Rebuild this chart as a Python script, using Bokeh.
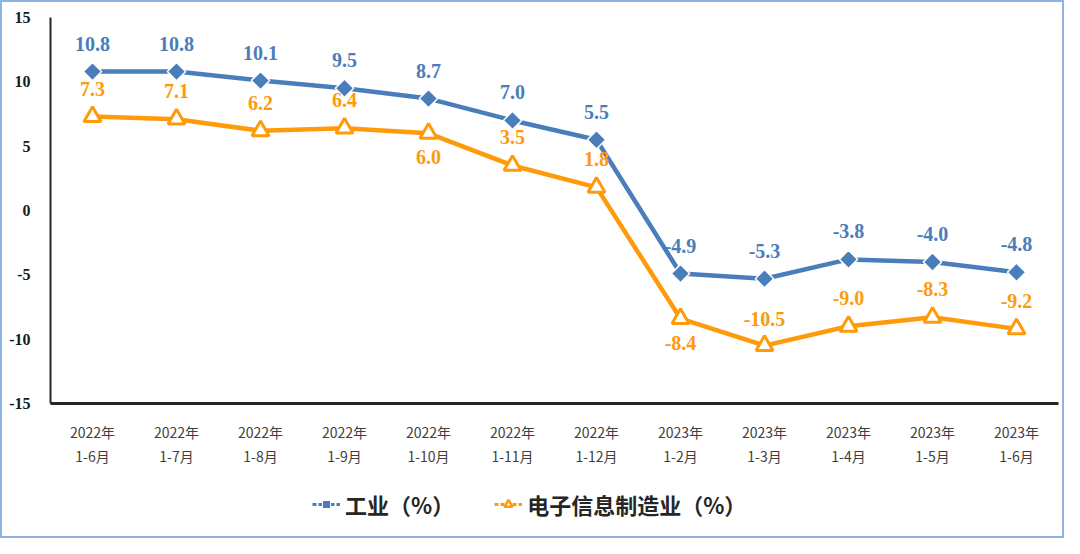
import math
from bokeh.plotting import figure
from bokeh.layouts import column
from bokeh.models import ColumnDataSource, FixedTicker, Legend, LegendItem, LabelSet
from bokeh.embed import file_html
from bokeh.resources import INLINE
from bokeh.core.properties import value

periods = ["2022年\n1-6月", "2022年\n1-7月", "2022年\n1-8月", "2022年\n1-9月", "2022年\n1-10月",
           "2022年\n1-11月", "2022年\n1-12月", "2023年\n1-2月", "2023年\n1-3月", "2023年\n1-4月",
           "2023年\n1-5月", "2023年\n1-6月"]
industry = [10.8, 10.8, 10.1, 9.5, 8.7, 7.0, 5.5, -4.9, -5.3, -3.8, -4.0, -4.8]
electronics = [7.3, 7.1, 6.2, 6.4, 6.0, 3.5, 1.8, -8.4, -10.5, -9.0, -8.3, -9.2]
y_ticks = [-15, -10, -5, 0, 5, 10, 15]
series_names = ["工业（%）", "电子信息制造业（%）"]

BLUE = "#4A7EBB"
ORANGE = "#FF9A0A"

# label offsets (pixels): positive = above
ind_off = [28] * len(industry)
ele_off = [28, 28, 28, 28, -24, 28, 28, -24, 27, 28, 28, 28]

src_i = ColumnDataSource(dict(x=periods, y=industry,
                              t=[f"{v:.1f}" for v in industry], off=ind_off))
src_e = ColumnDataSource(dict(x=periods, y=electronics,
                              t=[f"{v:.1f}" for v in electronics], off=ele_off))

p = figure(width=1060, height=466, x_range=periods, y_range=(-15, 15),
           output_backend="svg", toolbar_location=None,
           min_border_left=48, min_border_right=4, min_border_top=15, min_border_bottom=60)
p.outline_line_color = None
p.grid.grid_line_color = None
p.background_fill_color = "white"

p.yaxis.ticker = FixedTicker(ticks=y_ticks)
p.yaxis.major_label_overrides = {t: str(t) for t in y_ticks}
p.yaxis.major_tick_line_color = None
p.yaxis.minor_tick_line_color = None
p.yaxis.axis_line_color = "#262626"
p.yaxis.axis_line_width = 2
p.yaxis.major_label_text_font = "Liberation Serif"
p.yaxis.major_label_text_font_size = "16px"
p.yaxis.major_label_text_font_style = "bold"
p.yaxis.major_label_text_color = "#1a1a1a"
p.yaxis.major_label_standoff = 14

p.xaxis.major_tick_line_color = None
p.xaxis.minor_tick_line_color = None
p.xaxis.axis_line_color = "#262626"
p.xaxis.axis_line_width = 3
p.xaxis.major_label_text_font = "Noto Sans CJK SC"
p.xaxis.major_label_text_font_size = "14px"
p.xaxis.major_label_text_color = "#404040"
p.xaxis.major_label_standoff = 12

# labels first so lines can sit on top of them
for src, col in ((src_i, BLUE), (src_e, ORANGE)):
    lbl = LabelSet(x="x", y="y", text="t", y_offset="off", source=src,
                   text_align="center", text_baseline="middle",
                   text_font=value("Liberation Serif"), text_font_size="20px",
                   text_font_style="bold", text_color=col)
    p.add_layout(lbl)

p.line("x", "y", source=src_i, line_color=BLUE, line_width=4.5)
p.scatter("x", "y", source=src_i, marker="square", size=13, angle=math.pi / 4,
          fill_color=BLUE, line_color="white", line_width=1.5)
p.line("x", "y", source=src_e, line_color=ORANGE, line_width=4.5)
p.scatter("x", "y", source=src_e, marker="triangle", size=17,
          fill_color="white", line_color=ORANGE, line_width=3)

# separate strip for the legend (its glyphs sit outside the visible range)
lg = figure(width=1060, height=68, x_range=(0, 1), y_range=(0, 1),
            output_backend="svg", toolbar_location=None,
            min_border=0, x_axis_location=None, y_axis_location=None)
lg.outline_line_color = None
lg.grid.grid_line_color = None
l1 = lg.line([5, 6], [5, 5], line_color=BLUE, line_width=3, line_dash="4 2")
s1 = lg.scatter([5], [5], marker="square", size=10, angle=math.pi / 4,
                fill_color=BLUE, line_color="white", line_width=1)
l2 = lg.line([5, 6], [5, 5], line_color=ORANGE, line_width=3, line_dash="4 2")
s2 = lg.scatter([5], [5], marker="triangle", size=12, fill_color="white", line_color=ORANGE, line_width=2.5)

legend = Legend(items=[LegendItem(label=series_names[0], renderers=[l1, s1]),
                       LegendItem(label=series_names[1], renderers=[l2, s2])],
                orientation="horizontal", location=(262, 16),
                label_text_font="Noto Sans CJK SC", label_text_font_size="22px",
                label_text_font_style="bold",
                label_text_color="#262626", glyph_width=28, spacing=40,
                border_line_color=None, background_fill_alpha=0)
lg.add_layout(legend, "center")

layout = column(p, lg, spacing=0, styles={"border": "2px solid #8DB3E2"})
open("out.html", "w").write(file_html(layout, INLINE))
